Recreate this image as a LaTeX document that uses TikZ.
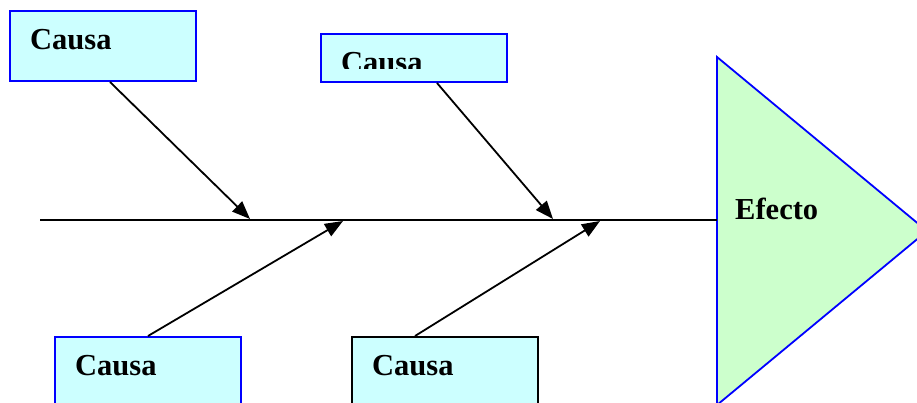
\documentclass[tikz,border=0pt]{standalone}
\usepackage{fontspec}
\setmainfont{Liberation Serif}
\usetikzlibrary{arrows.meta,calc}
\definecolor{causefill}{HTML}{CCFFFF}
\definecolor{effectfill}{HTML}{CCFFCC}
\definecolor{edgeblue}{HTML}{0000FF}
\tikzset{
  causebox/.style={draw=edgeblue, fill=causefill, line width=2pt, minimum width=186pt,
    minimum height=70pt, inner sep=0pt, anchor=north west},
  causetext/.style={anchor=base west, inner sep=0pt, font=\bfseries\fontsize{30.5}{36}\selectfont},
  bone/.style={line width=1.8pt, -{Triangle[length=18pt,width=14pt]}},
  spine/.style={line width=2.2pt},
}
\begin{document}
\begin{tikzpicture}[x=1pt,y=-1pt]
  \useasboundingbox (0,0) rectangle (917,403);
  \clip (0,0) rectangle (917,403);

  % effect triangle (head of the fish)
  \coordinate (ht) at (717,57);
  \coordinate (ha) at (927,231);
  \coordinate (hb) at (717,405);
  \fill[effectfill] (ht) -- (ha) -- (hb) -- cycle;
  \draw[edgeblue, line width=1.8pt] (ht) -- (ha) -- (hb) -- cycle;
  \node[causetext] (efecto) at (735,219) {Efecto};

  % spine
  \coordinate (tail) at (40,220);
  \draw[spine] (tail) -- (tail -| ht);

  % cause boxes
  \node[causebox] (c1) at (9,10) {};
  \node[causetext] (t1) at ($(c1.north west)+(21,40)$) {Causa};

  \node[causebox, minimum height=48pt] (c2) at (320,33) {};
  \begin{scope}
    \clip (320,33) rectangle (507,69);
    \node[causetext] (t2) at ($(c2.north west)+(21,40)$) {Causa};
  \end{scope}

  \node[causebox] (c3) at (54,336) {};
  \node[causetext] (t3) at ($(c3.north west)+(21,39)$) {Causa};

  \node[causebox, draw=black] (c4) at (351,336) {};
  \node[causetext] (t4) at ($(c4.north west)+(21,39)$) {Causa};

  % junctions on the spine
  \coordinate (j1) at (250,219);
  \coordinate (j2) at (553,219);
  \coordinate (j3) at (343,221);
  \coordinate (j4) at (600,221);

  % bones
  \draw[bone] (c1.south -| 110,0) -- (j1);
  \draw[bone] (c2.south -| 437,0) -- (j2);
  \draw[bone] (c3.north -| 148,0) -- (j3);
  \draw[bone] (c4.north -| 415,0) -- (j4);
\end{tikzpicture}
\end{document}
